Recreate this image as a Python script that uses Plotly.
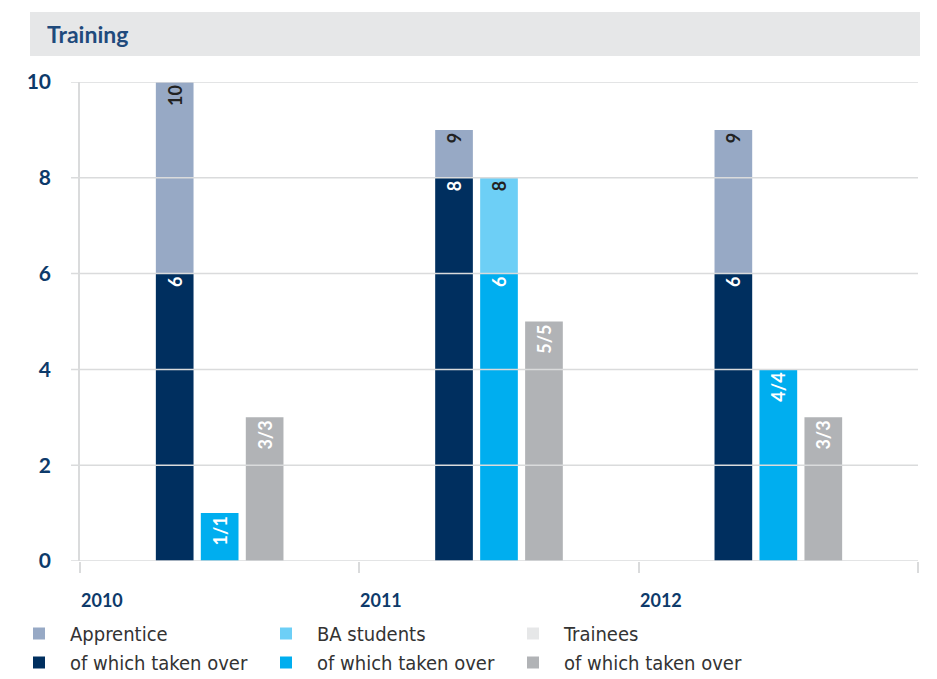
import plotly.graph_objects as go

years = ["2010", "2011", "2012"]
apprentice_total = [10, 9, 9]
apprentice_taken = [6, 8, 6]
ba_total = [1, 8, 4]
ba_taken = [1, 6, 4]
trainee_total = [3, 5, 3]
trainee_taken = [3, 5, 3]
y_ticks = [0, 2, 4, 6, 8, 10]

NAVY_TXT = '#0d3a6a'
GRID = '#dadbdc'

# the page body adds an 8px margin, so the figure is sized to fit the window
W, H = 929, 671


def taken_labels(taken, total):
    return [f"{t}/{n}" if t == n else f"{t}" for t, n in zip(taken, total)]


def rest_labels(taken, total):
    return [f"{n}" if n > t else "" for t, n in zip(taken, total)]


groups = [
    ('A', 'Apprentice', apprentice_total, apprentice_taken, '#97a9c5', '#002f5f'),
    ('B', 'BA students', ba_total, ba_taken, '#6dcff6', '#00aeef'),
    ('C', 'Trainees', trainee_total, trainee_taken, '#e6e7e8', '#b1b3b6'),
]

fig = go.Figure()

for i, (grp, name, total, taken, c_rest, c_taken) in enumerate(groups):
    fig.add_trace(go.Bar(
        x=years, y=taken,
        name='of which taken over',
        offsetgroup=grp,
        marker=dict(color=c_taken, line=dict(width=0)),
        text=taken_labels(taken, total),
        textposition='inside', insidetextanchor='end', textangle=-90,
        textfont=dict(color='white', size=18, family='Lato', weight='bold'),
        legendrank=10 + i,
    ))
    fig.add_trace(go.Bar(
        x=years, y=[n - t for t, n in zip(taken, total)],
        base=taken,
        name=name,
        offsetgroup=grp,
        marker=dict(color=c_rest, line=dict(width=0)),
        text=rest_labels(taken, total),
        textposition='inside', insidetextanchor='end', textangle=-90,
        textfont=dict(color='#222222', size=18, family='Lato', weight='bold'),
        legendrank=i,
    ))

# gridlines drawn over the bars, like the original
for v in y_ticks:
    fig.add_shape(type='line', xref='paper', yref='y',
                  x0=-0.0107, x1=1.0, y0=v, y1=v,
                  line=dict(color=GRID, width=1.5), layer='above')

# grey title band
fig.add_shape(type='rect', xref='paper', yref='paper',
              x0=-0.0597, x1=1.0024, y0=1.0543, y1=1.146,
              fillcolor='#e6e7e8', line=dict(width=0), layer='below')

for i, yr in enumerate(years):
    fig.add_annotation(x=i - 0.5, xref='x', y=0, yref='paper',
                       text=yr, showarrow=False, xanchor='left', yanchor='middle',
                       yshift=-39, xshift=-1,
                       font=dict(size=18, color=NAVY_TXT, family='Lato', weight='bold'))

fig.update_layout(
    width=W, height=H,
    paper_bgcolor='white', plot_bgcolor='white',
    barmode='group', bargap=0.517, bargroupgap=0.162,
    margin=dict(l=72, r=19, t=74, b=118),
    title=dict(text='Training', x=39 / W, xanchor='left',
               y=1 - 27 / H, yanchor='middle',
               font=dict(size=23, color='#1f4a7c', family='Lato', weight='bold')),
    showlegend=True,
    legend=dict(orientation='h', xref='container', yref='container',
                x=-7 / W, xanchor='left', y=1 - 606 / H, yanchor='top',
                entrywidth=180, itemwidth=52, traceorder='normal',
                font=dict(size=20, color='#333333', family='Liberation Sans Narrow, DejaVu Sans Condensed, Liberation Sans'),
                itemclick=False),
    font=dict(family='Lato'),
)

fig.update_xaxes(type='category', tickson='boundaries', ticks='outside', ticklen=11,
                 tickcolor=GRID, tickwidth=1.5, showticklabels=False, showgrid=False,
                 showline=False, range=[-0.5, 2.5])
fig.update_yaxes(range=[0, 10], tickvals=y_ticks, showgrid=False, zeroline=False,
                 showline=True, linecolor=GRID, linewidth=1.5,
                 ticks='', ticklabelstandoff=23,
                 tickfont=dict(size=21, color=NAVY_TXT, family='Lato', weight='bold'))

fig.write_html("out.html")
